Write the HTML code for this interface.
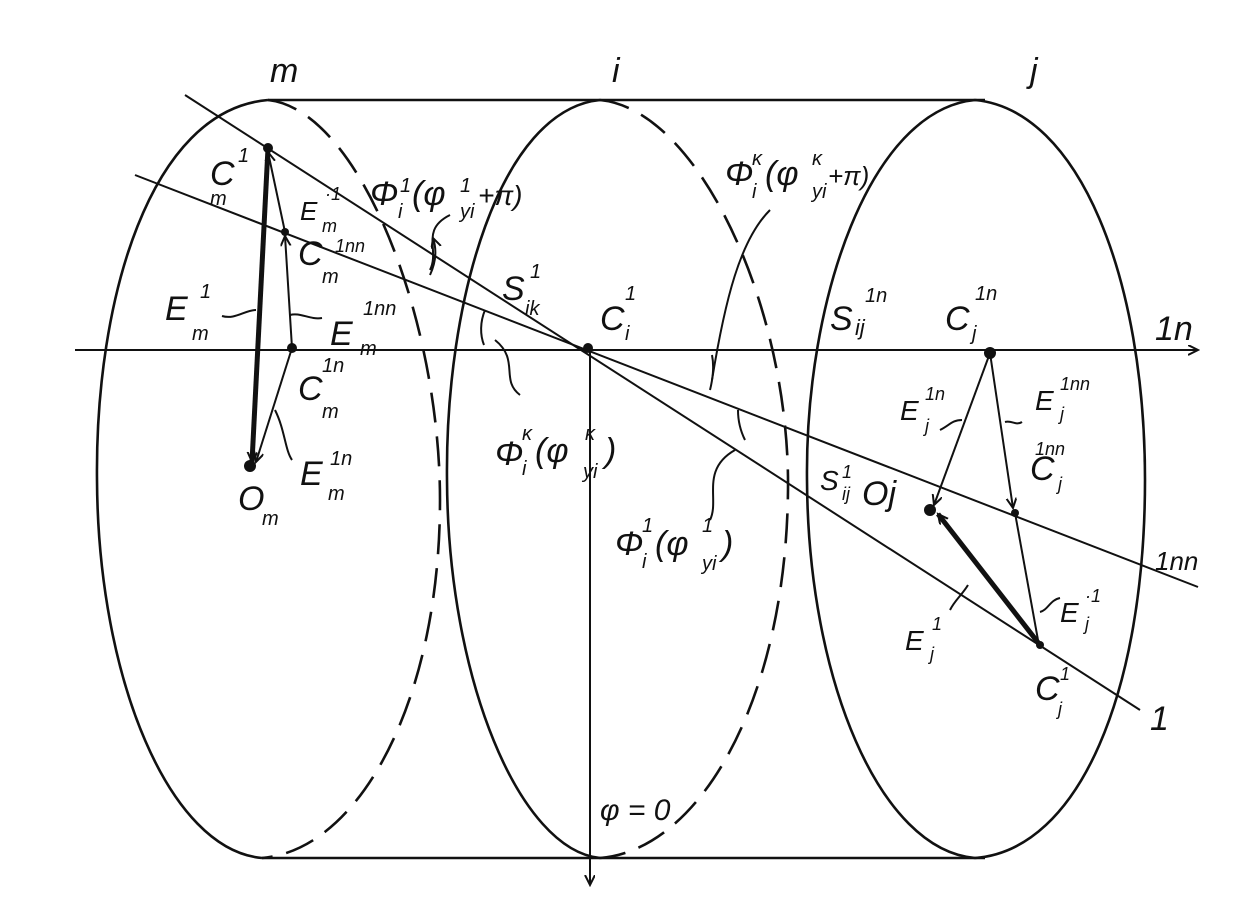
<!DOCTYPE html>
<html><head><meta charset="utf-8"><style>
html,body{margin:0;padding:0;background:#fff;}
svg{display:block;}
text{font-family:"Liberation Sans",sans-serif;font-style:italic;fill:#111;}
</style></head><body>
<svg width="1242" height="920" viewBox="0 0 1242 920" xmlns="http://www.w3.org/2000/svg">
<defs>
<marker id="a" markerWidth="12" markerHeight="12" refX="10" refY="5" orient="auto" markerUnits="userSpaceOnUse"><path d="M0,0 L10,5 L0,10" fill="none" stroke="#111" stroke-width="2"/></marker>
</defs>
<g fill="none" stroke="#111" stroke-width="2.6">
<!-- top/bottom -->
<path d="M268,100 L985,100"/>
<path d="M262,858 L985,858"/>
<!-- left ellipse m -->
<path d="M268,100 C150,110 95,300 97,480 C98,680 170,850 262,858"/>
<path d="M268,100 C360,110 440,320 440,500 C440,700 360,850 262,858" stroke-dasharray="30,14"/>
<!-- middle ellipse i -->
<path d="M600,100 C500,110 445,300 447,480 C448,680 520,850 600,858"/>
<path d="M600,100 C700,110 790,310 788,490 C786,700 700,850 600,858" stroke-dasharray="30,14"/>
<!-- right ellipse j -->
<path d="M975,100 C870,110 805,300 807,480 C808,680 880,850 975,858 C1080,850 1145,690 1145,480 C1145,280 1080,110 975,100"/>
</g>
<g fill="none" stroke="#111" stroke-width="2">
<!-- axes -->
<path d="M75,350 L1198,350" marker-end="url(#a)"/>
<path d="M590,350 L590,885" marker-end="url(#a)"/>
<!-- line 1 and 1nn -->
<path d="M185,95 L1140,710"/>
<path d="M135,175 L1198,587"/>
<!-- left vectors -->
<path d="M268,148 L252,462" stroke-width="5" marker-end="url(#a)"/>
<path d="M285,232 L268,152" marker-end="url(#a)"/>
<path d="M292,348 L285,236" marker-end="url(#a)"/>
<path d="M292,348 L256,462" marker-end="url(#a)"/>
<!-- right vectors -->
<path d="M990,353 L934,505" marker-end="url(#a)"/>
<path d="M990,353 L1013,508" marker-end="url(#a)"/>
<path d="M1015,513 L1038,640"/>
<path d="M1040,645 L938,514" stroke-width="5" marker-end="url(#a)"/>
<!-- angle arcs -->
<path d="M430,275 C436,262 437,250 433,238" marker-end="url(#a)"/>
<path d="M485,310 C480,322 480,335 484,345"/>
<path d="M710,390 C713,378 714,365 712,355"/>
<path d="M745,440 C740,430 738,420 738,410"/>
<!-- leaders -->
<path d="M450,215 C420,230 440,250 430,270"/>
<path d="M495,340 C520,360 500,380 520,395"/>
<path d="M770,210 C740,240 725,300 712,380"/>
<path d="M735,450 C700,470 720,500 710,520"/>
<path d="M222,316 C235,320 245,310 256,310"/>
<path d="M290,315 C300,312 310,320 322,318"/>
<path d="M275,410 C285,430 285,450 292,460"/>
<path d="M940,430 C950,425 952,420 962,420"/>
<path d="M1005,422 C1012,420 1016,426 1022,422"/>
<path d="M950,610 C955,600 962,595 968,585"/>
<path d="M1060,598 C1050,600 1048,610 1040,612"/>
</g>
<g fill="#111">
<circle cx="268" cy="148" r="5"/><circle cx="285" cy="232" r="4"/><circle cx="292" cy="348" r="5"/>
<circle cx="250" cy="466" r="6"/><circle cx="588" cy="348" r="5"/>
<circle cx="990" cy="353" r="6"/><circle cx="1015" cy="513" r="4"/><circle cx="1040" cy="645" r="4"/><circle cx="930" cy="510" r="6"/>
</g>
<g font-size="34">
<text x="270" y="82">m</text><text x="612" y="82">i</text><text x="1030" y="82">j</text>
<text x="210" y="185">C</text><text x="210" y="205" font-size="20">m</text><text x="238" y="162" font-size="20">1</text>
<text x="298" y="265">C</text><text x="322" y="283" font-size="20">m</text>
<text x="298" y="400">C</text><text x="322" y="418" font-size="20">m</text><text x="322" y="372" font-size="20">1n</text>
<text x="165" y="320">E</text><text x="192" y="340" font-size="20">m</text><text x="200" y="298" font-size="20">1</text>
<text x="300" y="220" font-size="26">E</text><text x="322" y="232" font-size="18">m</text><text x="325" y="200" font-size="18">·1</text><text x="335" y="252" font-size="18">1nn</text>
<text x="330" y="345">E</text><text x="360" y="355" font-size="20">m</text><text x="363" y="315" font-size="20">1nn</text>
<text x="300" y="485">E</text><text x="328" y="500" font-size="20">m</text><text x="330" y="465" font-size="20">1n</text>
<text x="238" y="510">O</text><text x="262" y="525" font-size="20">m</text>
<text x="370" y="205">Φ</text><text x="398" y="218" font-size="20">i</text><text x="400" y="192" font-size="20">1</text><text x="412" y="205">(φ</text><text x="460" y="218" font-size="20">yi</text><text x="460" y="192" font-size="20">1</text><text x="478" y="205" font-size="28">+π)</text>
<text x="502" y="300">S</text><text x="525" y="315" font-size="20">ik</text><text x="530" y="278" font-size="20">1</text>
<text x="600" y="330">C</text><text x="625" y="340" font-size="20">i</text><text x="625" y="300" font-size="20">1</text>
<text x="495" y="465">Φ</text><text x="522" y="475" font-size="20">i</text><text x="522" y="440" font-size="20">κ</text><text x="535" y="462">(φ</text><text x="583" y="478" font-size="20">yi</text><text x="585" y="440" font-size="20">κ</text><text x="605" y="462">)</text>
<text x="725" y="185">Φ</text><text x="752" y="198" font-size="20">i</text><text x="752" y="165" font-size="20">κ</text><text x="765" y="185">(φ</text><text x="812" y="198" font-size="20">yi</text><text x="812" y="165" font-size="20">κ</text><text x="828" y="185" font-size="26">+π)</text>
<text x="615" y="555">Φ</text><text x="642" y="568" font-size="20">i</text><text x="642" y="532" font-size="20">1</text><text x="655" y="555">(φ</text><text x="702" y="570" font-size="20">yi</text><text x="702" y="532" font-size="20">1</text><text x="722" y="555">)</text>
<text x="830" y="330">S</text><text x="855" y="335" font-size="22">ij</text><text x="865" y="302" font-size="20">1n</text>
<text x="945" y="330">C</text><text x="972" y="340" font-size="20">j</text><text x="975" y="300" font-size="20">1n</text>
<text x="1155" y="340">1n</text>
<text x="900" y="420" font-size="28">E</text><text x="925" y="432" font-size="18">j</text><text x="925" y="400" font-size="18">1n</text>
<text x="1035" y="410" font-size="28">E</text><text x="1060" y="420" font-size="18">j</text><text x="1060" y="390" font-size="18">1nn</text>
<text x="1030" y="480">C</text><text x="1058" y="490" font-size="18">j</text><text x="1035" y="455" font-size="18">1nn</text>
<text x="820" y="490" font-size="28">S</text><text x="842" y="500" font-size="18">ij</text><text x="842" y="478" font-size="18">1</text>
<text x="862" y="505">Oj</text>
<text x="1155" y="570" font-size="26">1nn</text>
<text x="905" y="650" font-size="28">E</text><text x="930" y="660" font-size="18">j</text><text x="932" y="630" font-size="18">1</text>
<text x="1060" y="622" font-size="28">E</text><text x="1085" y="630" font-size="18">j</text><text x="1085" y="602" font-size="18">·1</text>
<text x="1035" y="700">C</text><text x="1058" y="715" font-size="18">j</text><text x="1060" y="680" font-size="18">1</text>
<text x="1150" y="730">1</text>
<text x="600" y="820" font-size="30">φ = 0</text>
</g>
</svg>
</body></html>
